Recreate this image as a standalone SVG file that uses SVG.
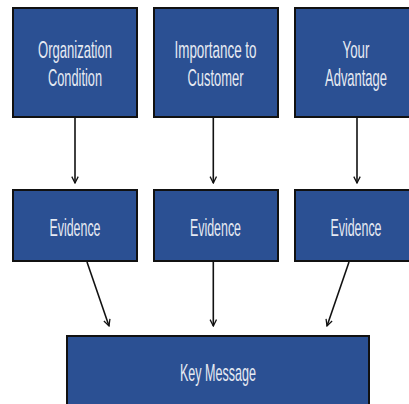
<svg xmlns="http://www.w3.org/2000/svg" width="409" height="404" viewBox="0 0 409 404">
<defs>
<style>
.box{fill:#2b5093;stroke:#111;stroke-width:2}
.t{font-family:"Liberation Sans",Arial,sans-serif;font-size:24px;fill:#e6eaf2;text-anchor:middle}
.c{stroke:#111;stroke-width:1.6;fill:none;marker-end:url(#ah)}
</style>
<marker id="ah" viewBox="0 0 10 10" refX="9" refY="5" markerWidth="8" markerHeight="8" markerUnits="userSpaceOnUse" orient="auto">
<path d="M1,1 L9,5 L1,9" fill="none" stroke="#111" stroke-width="1.6"/>
</marker>
</defs>
<rect width="409" height="404" fill="#fff"/>
<g id="n1"><rect class="box" x="13" y="8" width="124" height="109"/>
<text class="t" transform="translate(75,58) scale(0.544,1)">Organization</text>
<text class="t" transform="translate(75,86) scale(0.533,1)">Condition</text></g>
<g id="n2"><rect class="box" x="154" y="8" width="124" height="109"/>
<text class="t" transform="translate(215.5,58) scale(0.559,1)">Importance to</text>
<text class="t" transform="translate(215.5,86) scale(0.538,1)">Customer</text></g>
<g id="n3"><rect class="box" x="295" y="8" width="124" height="109"/>
<text class="t" transform="translate(356,58) scale(0.552,1)">Your</text>
<text class="t" transform="translate(356,86) scale(0.54,1)">Advantage</text></g>
<g id="n4"><rect class="box" x="13" y="190" width="124" height="71"/>
<text class="t" transform="translate(75,236) scale(0.517,1)">Evidence</text></g>
<g id="n5"><rect class="box" x="154" y="190" width="124" height="71"/>
<text class="t" transform="translate(215.5,236) scale(0.517,1)">Evidence</text></g>
<g id="n6"><rect class="box" x="295" y="190" width="124" height="71"/>
<text class="t" transform="translate(356,236) scale(0.517,1)">Evidence</text></g>
<g id="n7"><rect class="box" x="67" y="336" width="302" height="80"/>
<text class="t" transform="translate(218,381) scale(0.523,1)">Key Message</text></g>
<g id="connectors">
<line class="c" x1="75" y1="118" x2="75" y2="183"/>
<line class="c" x1="213.3" y1="118" x2="213.3" y2="183"/>
<line class="c" x1="357" y1="118" x2="357" y2="183"/>
<line class="c" x1="87" y1="262" x2="109" y2="326"/>
<line class="c" x1="213.3" y1="262" x2="213.3" y2="326"/>
<line class="c" x1="349" y1="262" x2="327" y2="326"/>
</g>
</svg>
